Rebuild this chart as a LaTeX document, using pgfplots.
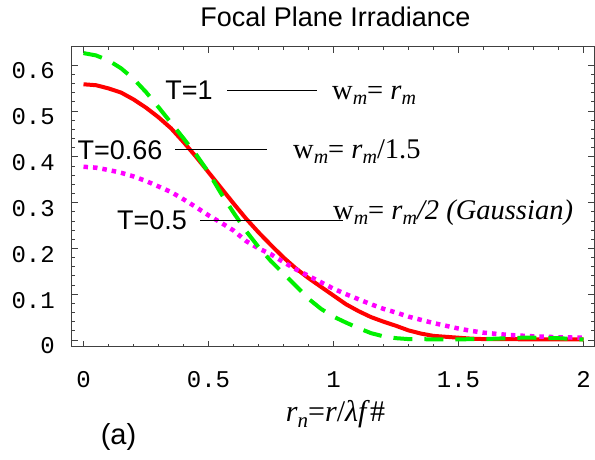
\documentclass[border=0pt]{standalone}
\usepackage{fontspec}
\setmainfont{Liberation Serif}
\setsansfont{Liberation Sans}
\setmonofont{Liberation Mono}
\usepackage{pgfplots}
\pgfplotsset{compat=1.18}
\usepackage{pgfplotstable}

\definecolor{cRed}{RGB}{255,0,0}
\definecolor{cGreen}{RGB}{0,240,0}
\definecolor{cMag}{RGB}{255,0,255}

\pgfplotstableread{
x y
0.00 0.558
0.05 0.556
0.10 0.549
0.15 0.540
0.20 0.525
0.25 0.507
0.30 0.486
0.35 0.462
0.40 0.432
0.45 0.400
0.50 0.366
0.55 0.332
0.60 0.298
0.65 0.265
0.70 0.235
0.75 0.207
0.80 0.180
0.85 0.156
0.90 0.135
0.95 0.116
1.00 0.097
1.05 0.078
1.10 0.063
1.15 0.050
1.20 0.040
1.25 0.031
1.30 0.021
1.35 0.014
1.40 0.009
1.45 0.007
1.50 0.005
1.55 0.003
1.60 0.002
1.80 0.0015
2.00 0.0015
}\redtable

\pgfplotstableread{
x y
0.00 0.626
0.05 0.621
0.10 0.610
0.15 0.593
0.20 0.570
0.25 0.541
0.30 0.508
0.35 0.474
0.40 0.440
0.45 0.405
0.50 0.366
0.55 0.320
0.60 0.278
0.65 0.238
0.70 0.203
0.75 0.172
0.80 0.145
0.85 0.118
0.90 0.090
0.95 0.068
1.00 0.051
1.05 0.038
1.10 0.026
1.15 0.015
1.20 0.008
1.25 0.004
1.30 0.002
1.40 0.0015
1.50 0.0015
1.60 0.002
1.70 0.004
1.75 0.005
1.80 0.005
1.90 0.004
2.00 0.001
}\greentable

\pgfplotstableread{
x y
0.00 0.378
0.05 0.376
0.10 0.371
0.15 0.365
0.20 0.357
0.25 0.347
0.30 0.335
0.35 0.323
0.40 0.307
0.45 0.290
0.50 0.272
0.55 0.256
0.60 0.239
0.65 0.216
0.70 0.200
0.75 0.187
0.80 0.170
0.85 0.154
0.90 0.140
0.95 0.126
1.00 0.112
1.05 0.100
1.10 0.089
1.15 0.078
1.20 0.068
1.25 0.060
1.30 0.051
1.35 0.044
1.40 0.037
1.45 0.031
1.50 0.025
1.55 0.020
1.60 0.016
1.70 0.011
1.80 0.008
1.90 0.006
2.00 0.005
}\magtable

\newcommand\fsz[1]{\fontsize{#1}{#1}\selectfont}
\newcommand\sub[1]{\raisebox{-5.5bp}{\fsz{20bp}\textit{#1}}}

\begin{document}
\begin{tikzpicture}
\useasboundingbox (0,0) rectangle (595bp,460bp);
\begin{axis}[
  at={(71.7bp,113.3bp)}, anchor=south west, scale only axis,
  width=522.3bp, height=300bp,
  xmin=-0.0472, xmax=2.042, ymin=-0.0146, ymax=0.64,
  xtick={0,0.5,1,1.5,2}, xticklabels={0,0.5,1,1.5,2},
  ytick={0,0.1,0.2,0.3,0.4,0.5,0.6},
  yticklabels={0,0.1,0.2,0.3,0.4,0.5,0.6},
  minor x tick num=4, minor y tick num=4,
  tick align=inside,
  major tick length=6bp, minor tick length=3bp,
  axis line style={black!75, line width=0.8bp},
  every tick/.style={black!75, line width=0.7bp},
  /pgf/number format/assume math mode=true,
  xticklabel style={font=\fsz{24bp}\ttfamily, anchor=center, yshift=-33bp, inner sep=0pt},
  yticklabel style={font=\fsz{24bp}\ttfamily, anchor=east, xshift=-16.7bp, yshift=-6bp, inner sep=0pt},
  clip=false,
]
\addplot[cRed, line width=4bp, line join=round] table {\redtable};
\addplot[cMag, line width=4.5bp, dash pattern=on 4.5bp off 5bp] table {\magtable};
\addplot[cGreen, line width=4bp, dash pattern=on 19bp off 12bp] table {\greentable};

\draw[black, line width=0.9bp] (axis cs:0.574,0.5455) -- (axis cs:0.934,0.5455);
\draw[black, line width=0.9bp] (axis cs:0.366,0.4168) -- (axis cs:0.733,0.4168);
\draw[black, line width=0.9bp] (axis cs:0.466,0.260) -- (axis cs:1.038,0.260);

\node[inner sep=0pt, font=\sffamily\fsz{27bp}] at (axis cs:0.422,0.5455) {T=1};
\node[inner sep=0pt, font=\sffamily\fsz{27bp}] at (axis cs:0.146,0.4146) {T=0.66};
\node[inner sep=0pt, font=\sffamily\fsz{27bp}] at (axis cs:0.274,0.2608) {T=0.5};

\node[anchor=base west, inner sep=0pt, font=\rmfamily\fsz{28.5bp}] at (axis cs:0.994,0.525)
  {w\sub{m}= \textit{r}\sub{m}};
\node[anchor=base west, inner sep=0pt, font=\rmfamily\fsz{28.5bp}] at (axis cs:0.838,0.397)
  {w\sub{m}= \textit{r}\sub{m}/1.5};
\node[anchor=base west, inner sep=0pt, font=\rmfamily\fsz{28.5bp}] at (axis cs:0.998,0.264)
  {w\sub{m}= \textit{r}\sub{m}\textit{/2 (Gaussian)}};
\end{axis}

\node[anchor=base, inner sep=0pt, font=\sffamily\fsz{27bp}] at (335.5bp,433bp) {Focal Plane Irradiance};
\node[anchor=base, inner sep=0pt, font=\rmfamily\fsz{30bp}] at (335.5bp,38.3bp)
  {\textit{r}\raisebox{-6bp}{\fsz{21bp}\textit{n}}=\textit{r}/\textit{λf}\#};
\node[inner sep=0pt, font=\sffamily\fsz{29bp}] at (118.5bp,23.5bp) {(a)};
\end{tikzpicture}
\end{document}
